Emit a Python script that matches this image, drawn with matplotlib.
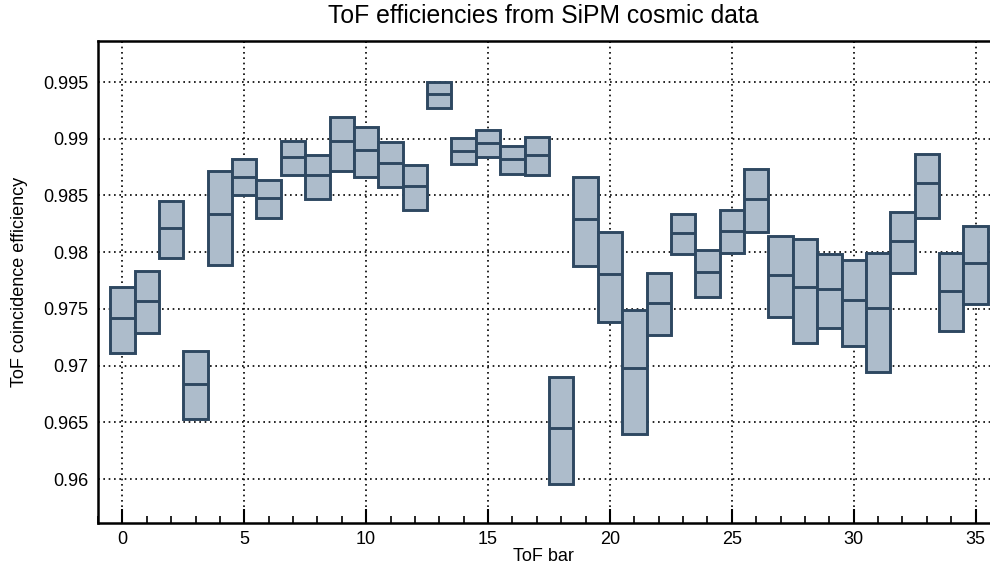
import matplotlib
matplotlib.use("Agg")
import matplotlib.pyplot as plt
import numpy as np
from matplotlib.ticker import MultipleLocator

plt.rcParams['font.family'] = ['Liberation Sans', 'DejaVu Sans']

bars = list(range(36))
eff = [0.97416, 0.97571, 0.98212, 0.96836, 0.98336, 0.98665, 0.98474, 0.98839,
       0.98677, 0.98977, 0.98900, 0.98783, 0.98583, 0.99397, 0.98894, 0.98959,
       0.98818, 0.98853, 0.96446, 0.98294, 0.97807, 0.96980, 0.97548, 0.98168,
       0.97822, 0.98186, 0.98468, 0.97800, 0.97690, 0.97677, 0.97575, 0.97509,
       0.98100, 0.98607, 0.97659, 0.97906]
eff_high = [0.97690, 0.97833, 0.98450, 0.97130, 0.98712, 0.98821, 0.98633, 0.98980,
            0.98856, 0.99194, 0.99103, 0.98971, 0.98771, 0.99500, 0.99006, 0.99079,
            0.98936, 0.99015, 0.96898, 0.98660, 0.98180, 0.97489, 0.97815, 0.98338,
            0.98021, 0.98368, 0.98735, 0.98139, 0.98113, 0.97980, 0.97933, 0.97992,
            0.98353, 0.98865, 0.97992, 0.98230]
eff_low = [0.97113, 0.97289, 0.97950, 0.96525, 0.97883, 0.98501, 0.98298, 0.98677,
           0.98465, 0.98718, 0.98659, 0.98571, 0.98368, 0.99271, 0.98779, 0.98841,
           0.98689, 0.98677, 0.95952, 0.97877, 0.97383, 0.96401, 0.97266, 0.97980,
           0.97606, 0.97992, 0.98174, 0.97430, 0.97201, 0.97333, 0.97174, 0.96945,
           0.97815, 0.98303, 0.97304, 0.97542]

title = "ToF efficiencies from SiPM cosmic data"
xlabel = "ToF bar"
ylabel = "ToF coincidence efficiency"

fill_c = "#adbccb"
edge_c = "#2e4861"

fig = plt.figure(figsize=(9.9, 5.68), dpi=100)
ax = fig.add_axes([0.099, 0.0792, 0.9005, 0.8486])

x = np.array(bars)
lo = np.array(eff_low)
hi = np.array(eff_high)
ax.bar(x, hi - lo, bottom=lo, width=1.0, color=fill_c, edgecolor=edge_c,
       linewidth=2.1, zorder=3)
ax.hlines(eff, x - 0.5, x + 0.5, colors=edge_c, linewidth=2.1, zorder=4)

ax.set_xlim(-1, 35.57)
ax.set_ylim(0.95612, 0.99862)

ax.xaxis.set_major_locator(MultipleLocator(5))
ax.xaxis.set_minor_locator(MultipleLocator(1))
ax.set_yticks([0.96, 0.965, 0.97, 0.975, 0.98, 0.985, 0.99, 0.995])
ax.set_yticklabels(["0.96", "0.965", "0.97", "0.975", "0.98", "0.985", "0.99", "0.995"])

ax.grid(True, which='major', color='black', linestyle=(0, (1, 2.2)), linewidth=1.2, zorder=0)
ax.set_axisbelow(True)

ax.tick_params(axis='x', which='major', direction='in', length=10, width=1.5,
               labelsize=13, pad=6, top=False)
ax.tick_params(axis='x', which='minor', direction='in', length=5, width=1.2, top=False)
ax.tick_params(axis='y', which='both', length=0, labelsize=13, pad=7, right=False)

for s in ['left', 'bottom', 'top']:
    ax.spines[s].set_linewidth(1.8)
ax.spines['right'].set_visible(False)

ax.set_title(title, fontsize=17.8, pad=13)
ax.set_xlabel(xlabel, fontsize=13, labelpad=0)
ax.set_ylabel(ylabel, fontsize=13, labelpad=11)

fig.savefig("out.png", dpi=100)
